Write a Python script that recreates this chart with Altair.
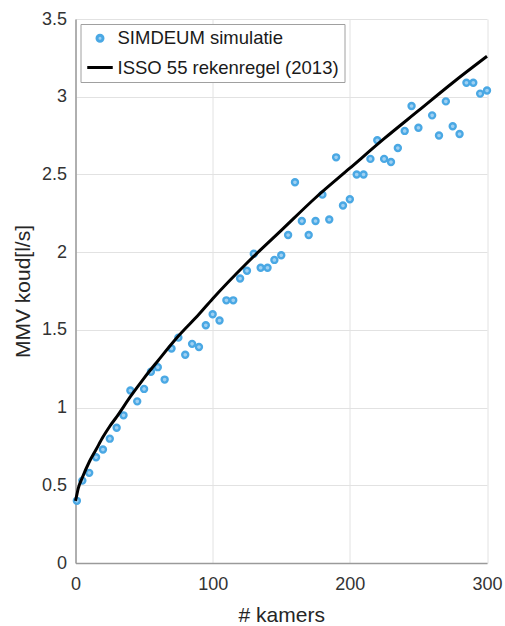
import altair as alt
import pandas as pd

# SIMDEUM simulation points
sim_x = [1, 5, 10, 15, 20, 25, 30, 35, 40, 45, 50, 55, 60, 65, 70, 75, 80, 85, 90, 95,
         100, 105, 110, 115, 120, 125, 130, 135, 140, 145, 150, 155, 160, 165, 170, 175,
         180, 185, 190, 195, 200, 205, 210, 215, 220, 225, 230, 235, 240, 245, 250,
         260, 265, 270, 275, 280, 285, 290, 295, 300]
sim_y = [0.40, 0.53, 0.58, 0.68, 0.73, 0.80, 0.87, 0.95, 1.11, 1.04, 1.12, 1.23, 1.26, 1.18,
         1.38, 1.45, 1.34, 1.41, 1.39, 1.53, 1.60, 1.56, 1.69, 1.69, 1.83, 1.88, 1.99, 1.90,
         1.90, 1.95, 1.98, 2.11, 2.45, 2.20, 2.11, 2.20, 2.37, 2.21, 2.61, 2.30, 2.34, 2.50,
         2.50, 2.60, 2.72, 2.60, 2.58, 2.67, 2.78, 2.94, 2.80, 2.88, 2.75, 2.97, 2.81,
         2.76, 3.09, 3.09, 3.02, 3.04]

# ISSO 55 curve
isso_x = [0, 1, 2, 5, 10, 15, 20, 25, 30, 40, 50, 60, 75, 90, 100, 125, 150, 175, 200, 225, 250, 275, 300]
isso_y = [0.40, 0.44, 0.48, 0.55, 0.65, 0.73, 0.81, 0.88, 0.94, 1.07, 1.19, 1.30, 1.46, 1.60, 1.70,
          1.93, 2.14, 2.35, 2.54, 2.73, 2.91, 3.09, 3.26]

series_names = ["SIMDEUM simulatie", "ISSO 55 rekenregel (2013)"]
series_colors = ["#4aa8e4", "#000000"]

x_ticks = [0, 100, 200, 300]
y_ticks = [0, 0.5, 1, 1.5, 2, 2.5, 3, 3.5]

sim_df = pd.DataFrame({"x": sim_x, "y": sim_y, "series": series_names[0]})
isso_df = pd.DataFrame({"x": isso_x, "y": isso_y, "series": series_names[1]})

FONT = "Liberation Sans"

xscale = alt.Scale(domain=[0, 300], nice=False, zero=False)
yscale = alt.Scale(domain=[0, 3.5], nice=False)

common = dict(grid=True, ticks=False, labelFlush=False, labelFontSize=18, titleFontSize=21,
              labelFont=FONT, titleFont=FONT, labelColor="#333333", titleColor="#262626",
              titleFontWeight="normal", domainColor="#9a9a9a", domainWidth=1.5,
              gridColor="#e2e2e2", gridWidth=1, labelOverlap=False)

xaxis = alt.Axis(values=x_ticks, title="# kamers", labelPadding=12, titlePadding=11, **common)
yaxis = alt.Axis(values=y_ticks, format=".1~f", title="MMV koud[l/s]",
                 labelPadding=9, titlePadding=8, **common)

legend = alt.Legend(title=None, orient="none", legendX=5, legendY=5,
                    strokeColor="#a0a0a0", fillColor="white", padding=5,
                    labelFont=FONT, labelFontSize=18.5, labelColor="#1a1a1a", labelLimit=0,
                    labelOffset=3, rowPadding=5, symbolStrokeWidth=3)

color = alt.Color("series:N", scale=alt.Scale(domain=series_names, range=series_colors),
                  legend=legend)

points = alt.Chart(sim_df).mark_point(filled=False, fill="#9fd0f2", fillOpacity=1,
                                      strokeWidth=2.4, opacity=1).encode(
    x=alt.X("x:Q", scale=xscale, axis=xaxis),
    y=alt.Y("y:Q", scale=yscale, axis=yaxis),
    color=color,
    shape=alt.Shape("series:N", scale=alt.Scale(domain=series_names, range=["circle", "stroke"]),
                    legend=legend),
    size=alt.Size("series:N", scale=alt.Scale(domain=series_names, range=[36, 650]),
                  legend=legend),
)

line = alt.Chart(isso_df).mark_line(strokeWidth=3, interpolate="monotone").encode(
    x=alt.X("x:Q", scale=xscale, axis=xaxis),
    y=alt.Y("y:Q", scale=yscale, axis=yaxis),
    color=color,
)

chart = alt.layer(points, line).properties(
    width=411.5, height=544,
    padding={"left": 75.5, "top": 19, "right": 18, "bottom": 63},
    autosize="none",
    background="white",
).configure_view(stroke=None)

chart.save("out.html", embed_options={"renderer": "svg", "actions": False})
